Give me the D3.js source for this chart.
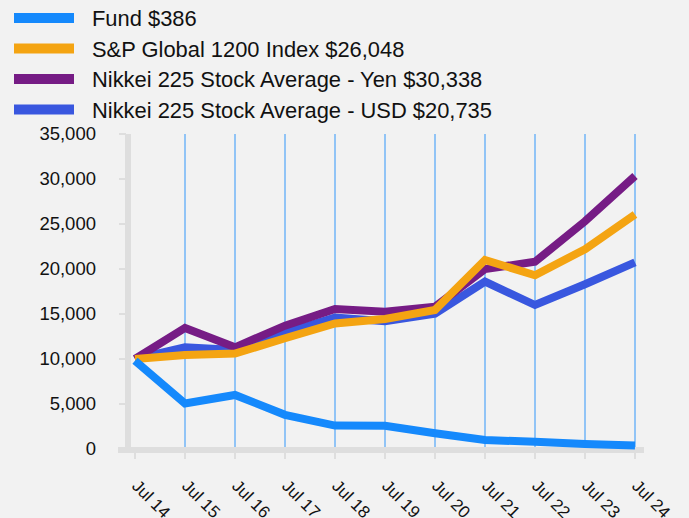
<!DOCTYPE html>
<html>
<head>
<meta charset="utf-8">
<script src="https://cdn.jsdelivr.net/npm/d3@7"></script>
<style>
  body { margin: 0; background: #f2f2f2; }
  svg { display: block; font-family: "Liberation Sans", Arial, sans-serif; }
</style>
</head>
<body>
<svg id="chart" width="689" height="518"></svg>
<script>
let width = 689,
  height = 518

let years = ["Jul 14", "Jul 15", "Jul 16", "Jul 17", "Jul 18", "Jul 19", "Jul 20", "Jul 21", "Jul 22", "Jul 23", "Jul 24"]
let yTicks = [0, 5000, 10000, 15000, 20000, 25000, 30000, 35000]

let fund = [9800, 5050, 6000, 3800, 2600, 2580, 1750, 1000, 800, 550, 386]
let spGlobal = [10000, 10450, 10600, 12300, 13950, 14450, 15450, 21000, 19300, 22200, 26048]
let nikkeiYen = [10000, 13450, 11300, 13700, 15550, 15250, 15800, 20000, 20800, 25300, 30338]
let nikkeiUsd = [10000, 11300, 11000, 12900, 14600, 14200, 15050, 18600, 16000, 18300, 20735]

let seriesNames = ["Fund $386", "S&P Global 1200 Index $26,048", "Nikkei 225 Stock Average - Yen $30,338", "Nikkei 225 Stock Average - USD $20,735"]
let seriesValues = [fund, spGlobal, nikkeiYen, nikkeiUsd]
let colors = ["#1589fc", "#f4a412", "#761c85", "#3957df"]

let svg = d3.select("#chart")

let x = d3.scalePoint().domain(years).range([135, 635])
let y = d3.scaleLinear().domain([0, 35000]).range([449, 134])

// legend
let legend = svg.append("g")
seriesNames.forEach((name, i) => {
  let row = legend.append("g").attr("transform", `translate(0, ${18 + i * 30.5})`)
  row.append("rect").attr("x", 14).attr("y", -5).attr("width", 60).attr("height", 10).attr("fill", colors[i])
  row.append("text").attr("x", 92).attr("y", 8)
    .attr("font-size", 21.9).attr("fill", "#111").text(name)
})

// vertical grid lines
svg.append("g").selectAll("line")
  .data(years.slice(1)).enter()
  .append("line")
  .attr("x1", d => x(d)).attr("x2", d => x(d))
  .attr("y1", y(35000)).attr("y2", y(0))
  .attr("stroke", "#71b5f7").attr("stroke-width", 1.5)

// axes
let axisColor = "#dedede"
svg.append("line").attr("x1", 128).attr("x2", 128).attr("y1", y(35000)).attr("y2", 453)
  .attr("stroke", axisColor).attr("stroke-width", 6)
svg.append("line").attr("x1", 118).attr("x2", 644).attr("y1", 450).attr("y2", 450)
  .attr("stroke", axisColor).attr("stroke-width", 6)

let yAxis = svg.append("g")
yAxis.selectAll("line").data(yTicks).enter().append("line")
  .attr("x1", 119).attr("x2", 126).attr("y1", d => y(d)).attr("y2", d => y(d))
  .attr("stroke", axisColor).attr("stroke-width", 2)
yAxis.selectAll("text").data(yTicks).enter().append("text")
  .attr("x", 96).attr("y", d => y(d)).attr("dy", "0.35em")
  .attr("text-anchor", "end").attr("font-size", 18.5).attr("fill", "#111")
  .text(d => d3.format(",")(d))

let xAxis = svg.append("g")
xAxis.selectAll("line").data(years).enter().append("line")
  .attr("x1", d => x(d)).attr("x2", d => x(d)).attr("y1", 452).attr("y2", 459)
  .attr("stroke", axisColor).attr("stroke-width", 2)
xAxis.selectAll("text").data(years).enter().append("text")
  .attr("transform", d => `translate(${x(d) - 4}, 487) rotate(45)`)
  .attr("font-size", 17).attr("fill", "#111")
  .text(d => d)

// lines
let line = d3.line()
  .x((d, i) => x(years[i]))
  .y(d => y(d))

let order = [3, 2, 1, 0]
svg.append("g").selectAll("path")
  .data(order).enter()
  .append("path")
  .attr("d", i => line(seriesValues[i]))
  .attr("fill", "none")
  .attr("stroke", i => colors[i])
  .attr("stroke-width", 8)
</script>
</body>
</html>
